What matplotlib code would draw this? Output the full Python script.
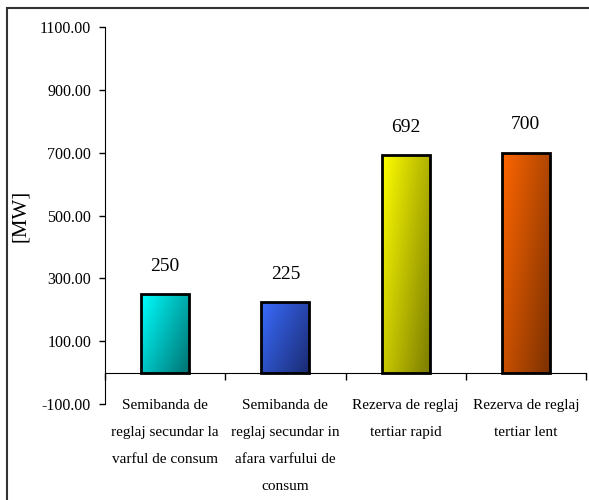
import numpy as np
import matplotlib
matplotlib.use("Agg")
import matplotlib.pyplot as plt
from matplotlib.patches import Rectangle
from matplotlib.colors import to_rgb

categories = ["Semibanda de\nreglaj secundar la\nvarful de consum",
              "Semibanda de\nreglaj secundar in\nafara varfului de\nconsum",
              "Rezerva de reglaj\ntertiar rapid",
              "Rezerva de reglaj\ntertiar lent"]
values = [250, 225, 692, 700]
light_colors = ["#00FFFF", "#3A6CFF", "#FFFF00", "#FF6600"]
dark_colors = ["#007070", "#1A2A70", "#7A7A00", "#7A3000"]
yticks = [-100, 100, 300, 500, 700, 900, 1100]

plt.rcParams['font.family'] = ['Liberation Serif', 'DejaVu Serif']

fig = plt.figure(figsize=(5.89, 5.0), dpi=100)
ax = fig.add_axes([105/589, 1-404/500, (586-105)/589, (404-27)/500])

x = np.arange(len(values))
bars = ax.bar(x, values, width=0.4, color='none', edgecolor='black', linewidth=2, zorder=3)

for b, v, lc, dc in zip(bars, values, light_colors, dark_colors):
    x0, y0 = b.get_x(), b.get_y()
    w, h = b.get_width(), b.get_height()
    n = 100
    u = np.linspace(0, 1, n)
    U, V = np.meshgrid(u, u)
    t = np.clip((U * 0.6 + V * 0.4), 0, 1)
    l = np.array(to_rgb(lc)); d = np.array(to_rgb(dc))
    img = l[None, None, :] * (1 - t[..., None]) + d[None, None, :] * t[..., None]
    im = ax.imshow(img, extent=[x0, x0 + w, y0, y0 + h], origin='upper',
                   aspect='auto', zorder=2, interpolation='bilinear')
    clip = Rectangle((x0, y0), w, h, transform=ax.transData)
    im.set_clip_path(clip)
    ax.annotate(f"{v}", (x0 + w/2, y0 + h), xytext=(0, 20), textcoords='offset points',
                ha='center', va='center', fontsize=14)

ax.set_xlim(-0.5, len(values) - 0.5)
ax.set_ylim(-100, 1100)
ax.set_yticks(yticks)
ax.set_yticklabels([f"{v:.2f}" for v in yticks], fontsize=11.5)
ax.tick_params(axis='y', direction='out', length=4, width=1, pad=6)

ax.spines['top'].set_visible(False)
ax.spines['right'].set_visible(False)
ax.spines['bottom'].set_position(('data', 0))
ax.set_xticks(x)
ax.set_xticklabels(categories, fontsize=11, linespacing=2.4, va='top')
ax.tick_params(axis='x', which='major', length=0, pad=19)
ax.set_xticks(np.arange(-0.5, len(values)), minor=True)
ax.tick_params(axis='x', which='minor', direction='out', length=5, width=1)

ax.set_ylabel("[MW]", fontsize=15)
ax.yaxis.set_label_coords(-0.155, 0.50)

border = Rectangle((7/589, -0.1), 1.2, (1 - 8/500) + 0.1, transform=fig.transFigure,
                   fill=False, edgecolor='#333333', linewidth=1.5)
fig.add_artist(border)

fig.savefig("out.png", dpi=100)
